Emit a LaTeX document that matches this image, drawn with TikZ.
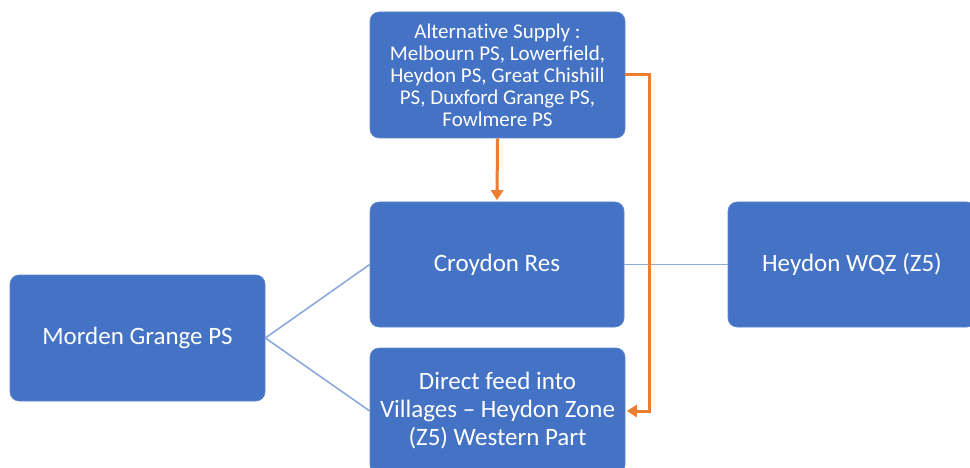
\documentclass[tikz,border=0pt]{standalone}
\usepackage{fontspec}
\setmainfont[Ligatures=NoCommon]{Carlito}
\usetikzlibrary{arrows.meta}
\definecolor{boxblue}{HTML}{4472C4}
\definecolor{linkblue}{HTML}{8EA9DB}
\definecolor{feedorange}{HTML}{ED7D31}
\begin{document}
\begin{tikzpicture}[x=1pt,y=-1pt,
  box/.style={fill=boxblue, draw=boxblue!85!white, line width=0.6pt, rounded corners=9pt,
    text=white, align=center, inner sep=0pt},
  link/.style={draw=linkblue, line width=1.6pt},
  feed/.style={draw=feedorange, line width=3pt, shorten >=1.5pt,
    -{Triangle[length=10pt,width=12pt]}}]
\clip (0,0) rectangle (970,468);
\fill[white] (0,0) rectangle (970,468);

% source and reservoir boxes
\node[box, minimum width=255pt, minimum height=126pt, font=\fontsize{21}{22}\selectfont]
  (alt) at (497.5,75) {Alternative Supply :\\Melbourn PS, Lowerfield,\\Heydon PS, Great Chishill\\PS, Duxford Grange PS,\\Fowlmere PS};
\node[box, minimum width=254pt, minimum height=125pt, font=\fontsize{25}{28}\selectfont]
  (croydon) at (497,264.5) {Croydon Res};
\node[box, minimum width=248pt, minimum height=125pt, font=\fontsize{25}{28}\selectfont]
  (heydon) at (852,264.5) {Heydon WQZ (Z5)};
\node[box, minimum width=255pt, minimum height=126pt, font=\fontsize{25}{28}\selectfont]
  (morden) at (137.5,338) {Morden Grange PS};
\node[box, minimum width=255pt, minimum height=126pt, font=\fontsize{25}{28}\selectfont]
  (direct) at (497.5,411) {Direct feed into\\Villages -- Heydon Zone\\(Z5) Western Part};

% normal supply links
\draw[link] (croydon.east) -- (heydon.west);
\draw[link] (morden.east) -- (croydon.west);
\draw[link] (morden.east) -- (direct.west);

% alternative supply routes
\draw[feed] (alt.south) -- (croydon.north);
\draw[feed] (alt.east) -- ++(24,0) |- (direct.east);
\end{tikzpicture}
\end{document}
